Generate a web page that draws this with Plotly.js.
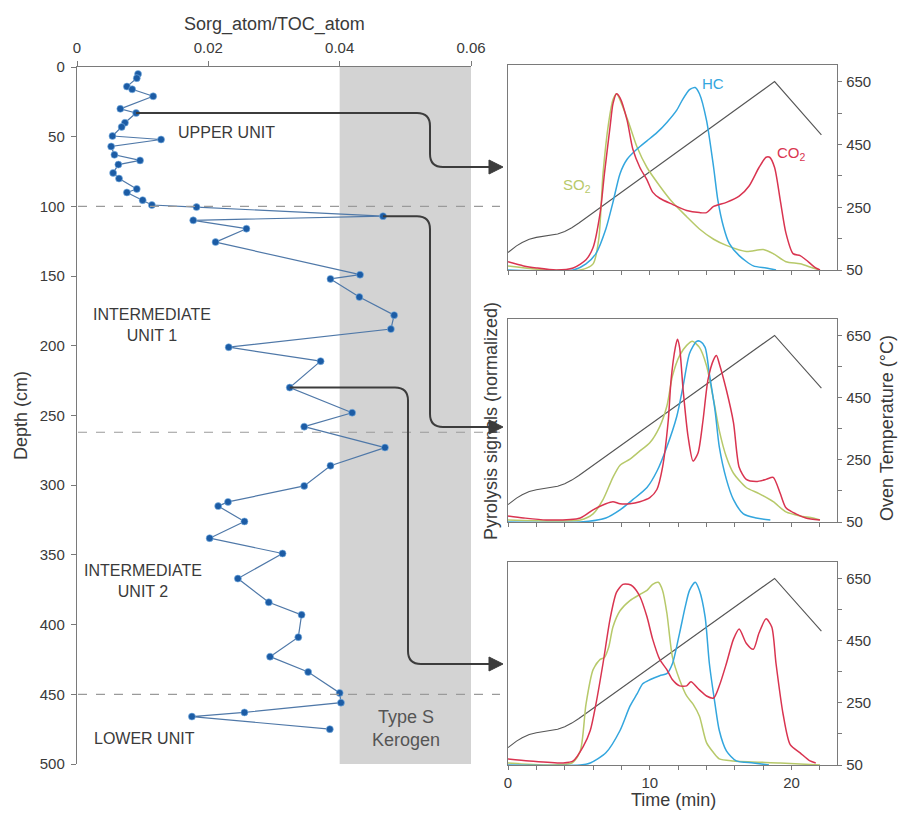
<!DOCTYPE html>
<html><head><meta charset="utf-8">
<script src="https://cdn.plot.ly/plotly-3.0.1.min.js"></script>
<style>html,body{margin:0;padding:0;background:#fff}#chart{width:901px;height:814px}</style>
</head><body><div id="chart"></div>
<script>
// ---------- Left panel data: Sorg/TOC atomic ratio vs depth ----------
const depthCm = [5, 8, 14, 16, 21, 30, 33, 40, 43, 49.5, 52, 57, 63, 67, 70, 76, 80, 87.5, 90, 95.5, 99, 100.5,
  107, 110, 116, 125.6, 149, 152, 165, 178, 188, 201, 211, 230, 248, 258, 273, 286, 300.5, 312, 315, 326, 338,
  349, 367, 384, 393, 409, 423, 434, 449, 456, 463, 466, 475];
const sorgToc = [0.0093, 0.0091, 0.0076, 0.0084, 0.0116, 0.0066, 0.0090, 0.0073, 0.0068, 0.0054, 0.0128, 0.0052,
  0.0057, 0.0096, 0.0063, 0.0055, 0.0064, 0.0091, 0.0076, 0.0100, 0.0114, 0.0182, 0.0466, 0.0177, 0.0258, 0.0211,
  0.0431, 0.0386, 0.0430, 0.0483, 0.0478, 0.0231, 0.0371, 0.0324, 0.0419, 0.0346, 0.0469, 0.0386, 0.0346, 0.0230,
  0.0215, 0.0255, 0.0202, 0.0313, 0.0245, 0.0292, 0.0342, 0.0337, 0.0294, 0.0352, 0.0400, 0.0402, 0.0255, 0.0175, 0.0385];
const unitBoundaries = [100, 262, 450];
const kerogenRange = [0.04, 0.06];
const linkedDepths = [33, 107, 230];
const unitLabels = ['UPPER UNIT', 'INTERMEDIATE<br>UNIT 1', 'INTERMEDIATE<br>UNIT 2', 'LOWER UNIT'];

// ---------- Right panels: pyrolysis signals (normalized) vs time ----------
// Oven temperature program (same for all three)
const tempTime = [0, 0.3, 0.6, 1, 1.5, 2, 2.5, 3, 3.5, 4, 4.5, 5, 18.8, 22.1];
const tempC = [106, 117, 127, 138, 148, 154, 158, 161, 165, 173, 185, 200, 651, 481];

// Panel 1 (upper unit, 33 cm)
const p1SO2t = [0, 2.7, 5.1, 6.0, 6.4, 6.7, 7.1, 7.4, 7.65, 8.4, 9.1, 9.8, 10.7, 11.6, 12.6, 13.5, 14.5, 15.4, 16.8, 18.0, 18.7, 19.6, 20.6, 21.5, 22.0];
const p1SO2s = [0.02, 0.00, 0.00, 0.03, 0.15, 0.47, 0.72, 0.83, 0.86, 0.74, 0.60, 0.50, 0.41, 0.33, 0.26, 0.20, 0.15, 0.12, 0.09, 0.10, 0.08, 0.04, 0.03, 0.01, 0.00];
const p1CO2t = [0, 1.1, 2.0, 3.4, 4.6, 5.5, 6.0, 6.5, 6.8, 7.2, 7.4, 7.65, 7.9, 8.4, 8.8, 9.3, 9.8, 10.2, 10.7, 11.6, 12.6, 13.5, 14.0, 14.5, 15.4, 16.3, 17.0, 17.7, 18.2, 18.45, 18.8, 19.2, 19.6, 20.1, 20.6, 21.0, 21.7, 22.0];
const p1CO2s = [0.04, 0.02, 0.01, 0.00, 0.01, 0.05, 0.11, 0.28, 0.47, 0.70, 0.81, 0.86, 0.84, 0.73, 0.59, 0.50, 0.44, 0.38, 0.35, 0.32, 0.29, 0.28, 0.28, 0.31, 0.33, 0.36, 0.41, 0.50, 0.55, 0.55, 0.50, 0.34, 0.18, 0.08, 0.07, 0.05, 0.01, 0.00];
const p1HCt = [0, 4.6, 5.5, 6.2, 6.9, 7.4, 7.9, 8.4, 9.1, 9.8, 10.5, 11.2, 11.9, 12.3, 12.8, 13.2, 13.5, 14.0, 14.5, 14.8, 15.2, 15.6, 16.3, 17.3, 18.2, 18.9];
const p1HCs = [0.00, 0.00, 0.03, 0.08, 0.20, 0.33, 0.47, 0.54, 0.59, 0.63, 0.67, 0.72, 0.78, 0.83, 0.88, 0.89, 0.86, 0.73, 0.50, 0.34, 0.21, 0.13, 0.07, 0.02, 0.01, 0.00];

// Panel 2 (intermediate unit 1, 107 cm)
const p2SO2t = [0, 5.1, 6.0, 6.7, 7.4, 7.9, 8.6, 9.3, 10.0, 10.7, 11.2, 11.6, 12.1, 12.6, 13.0, 13.5, 14.0, 14.5, 14.9, 15.4, 15.9, 16.8, 17.7, 18.7, 19.6, 20.6, 21.5, 22.0];
const p2SO2s = [0.01, 0.01, 0.04, 0.11, 0.22, 0.28, 0.31, 0.35, 0.39, 0.47, 0.57, 0.72, 0.82, 0.87, 0.89, 0.86, 0.77, 0.60, 0.45, 0.32, 0.24, 0.17, 0.14, 0.10, 0.05, 0.03, 0.02, 0.01];
const p2CO2t = [0, 1.1, 2.7, 5.1, 6.0, 6.9, 7.4, 7.9, 8.6, 9.3, 10.0, 10.5, 10.9, 11.3, 11.5, 11.8, 11.95, 12.1, 12.35, 12.7, 13.05, 13.4, 13.75, 14.1, 14.5, 14.7, 14.9, 15.4, 15.9, 16.3, 16.8, 17.5, 18.2, 18.7, 19.2, 19.6, 20.3, 21.0, 22.0];
const p2CO2s = [0.03, 0.02, 0.01, 0.02, 0.06, 0.09, 0.10, 0.09, 0.09, 0.10, 0.12, 0.16, 0.27, 0.50, 0.70, 0.86, 0.90, 0.86, 0.65, 0.42, 0.30, 0.34, 0.50, 0.70, 0.80, 0.82, 0.78, 0.65, 0.49, 0.27, 0.21, 0.20, 0.21, 0.22, 0.14, 0.07, 0.04, 0.02, 0.01];
const p2HCt = [0, 5.1, 6.9, 7.9, 8.8, 9.8, 10.5, 11.2, 11.9, 12.35, 12.8, 13.3, 13.55, 13.9, 14.2, 14.6, 14.9, 15.4, 15.9, 16.6, 17.5, 18.5];
const p2HCs = [0.00, 0.00, 0.02, 0.06, 0.11, 0.17, 0.25, 0.37, 0.52, 0.67, 0.83, 0.89, 0.89, 0.86, 0.73, 0.55, 0.37, 0.21, 0.11, 0.04, 0.02, 0.01];

// Panel 3 (intermediate unit 1, 230 cm)
const p3SO2t = [0, 4.5, 5.1, 5.5, 6.0, 6.5, 6.8, 7.1, 7.4, 7.9, 8.6, 9.3, 9.8, 10.2, 10.6, 10.9, 11.2, 11.6, 12.1, 12.6, 13.05, 13.5, 14.0, 14.5, 14.9, 15.9, 19.2, 22.0];
const p3SO2s = [0.01, 0.01, 0.07, 0.30, 0.47, 0.52, 0.53, 0.58, 0.68, 0.76, 0.81, 0.84, 0.86, 0.89, 0.90, 0.86, 0.75, 0.53, 0.42, 0.34, 0.30, 0.24, 0.11, 0.06, 0.03, 0.02, 0.01, 0.00];
const p3CO2t = [0, 1.5, 3.9, 4.6, 5.3, 5.8, 6.2, 6.7, 7.2, 7.65, 8.1, 8.5, 8.8, 9.3, 9.8, 10.2, 10.7, 11.2, 11.6, 12.1, 12.6, 12.9, 13.5, 14.0, 14.5, 14.9, 15.4, 15.9, 16.3, 16.8, 17.3, 17.7, 18.2, 18.6, 18.9, 19.4, 19.9, 20.6, 21.3, 21.7];
const p3CO2s = [0.03, 0.02, 0.01, 0.02, 0.09, 0.17, 0.30, 0.50, 0.72, 0.85, 0.89, 0.89, 0.88, 0.83, 0.73, 0.62, 0.52, 0.47, 0.42, 0.39, 0.39, 0.41, 0.37, 0.34, 0.33, 0.39, 0.50, 0.62, 0.67, 0.60, 0.57, 0.65, 0.72, 0.68, 0.50, 0.25, 0.10, 0.06, 0.02, 0.01];
const p3HCt = [0, 5.1, 5.8, 6.9, 7.9, 8.6, 9.1, 9.5, 10.0, 10.7, 11.2, 11.6, 12.1, 12.5, 12.8, 13.2, 13.5, 13.9, 14.2, 14.6, 14.9, 15.4, 16.1, 17.3, 18.4];
const p3HCs = [0.00, 0.00, 0.01, 0.06, 0.17, 0.29, 0.35, 0.40, 0.42, 0.44, 0.45, 0.50, 0.65, 0.78, 0.86, 0.90, 0.86, 0.73, 0.50, 0.30, 0.17, 0.07, 0.02, 0.01, 0.00];

// ---------- Layout geometry (pixels) ----------
const W = 901, H = 814;
const L = {x0: 77, x1: 471, y0: 67, y1: 764};      // left plot box
const R = {x0: 508, x1: 837};                       // right panels horizontal extent
const panelsY = [[65, 270], [319, 522], [562, 765]];
const xRange = [0, 0.06], dRange = [0, 500];

const fx = px => px / W;
const fy = py => 1 - py / H;
const P = (px, py) => fx(px).toFixed(5) + ',' + fy(py).toFixed(5);
const pxOfX = v => L.x0 + (v - xRange[0]) / (xRange[1] - xRange[0]) * (L.x1 - L.x0);
const pyOfD = d => L.y0 + (d - dRange[0]) / (dRange[1] - dRange[0]) * (L.y1 - L.y0);

const COL = {hc: '#33a6de', co2: '#d93450', so2: '#b7c96a', temp: '#555555', axis: '#7a7a7a', text: '#3a3a3a'};
const FONT = 'Liberation Sans, Arial, Helvetica, sans-serif';

const traces = [];
traces.push({
  x: sorgToc, y: depthCm, xaxis: 'x', yaxis: 'y', type: 'scatter', mode: 'lines+markers',
  line: {color: '#4f78a8', width: 1.2},
  marker: {color: '#1c5ca5', size: 7, line: {color: '#7fb6e6', width: 0.6}},
  hoverinfo: 'x+y'
});

const panels = [
  {so2: [p1SO2t, p1SO2s], co2: [p1CO2t, p1CO2s], hc: [p1HCt, p1HCs]},
  {so2: [p2SO2t, p2SO2s], co2: [p2CO2t, p2CO2s], hc: [p2HCt, p2HCs]},
  {so2: [p3SO2t, p3SO2s], co2: [p3CO2t, p3CO2s], hc: [p3HCt, p3HCs]}
];

const layout = {
  width: W, height: H, margin: {l: 0, r: 0, t: 0, b: 0},
  paper_bgcolor: '#ffffff', plot_bgcolor: 'rgba(0,0,0,0)',
  showlegend: false, font: {family: FONT, color: '#3a3a3a', size: 15},
  xaxis: {
    domain: [fx(L.x0), fx(L.x1)], range: xRange, side: 'top', anchor: 'y',
    tickmode: 'linear', tick0: 0, dtick: 0.02, tickformat: '.2~f',
    ticks: 'outside', ticklen: 5, tickcolor: COL.axis, showline: true, linecolor: COL.axis, linewidth: 1.2,
    showgrid: false, zeroline: false, tickfont: {size: 15, color: COL.text}, ticklabelstandoff: 2
  },
  yaxis: {
    domain: [fy(L.y1), fy(L.y0)], range: [500, 0], anchor: 'x',
    tickmode: 'linear', tick0: 0, dtick: 50,
    ticks: 'outside', ticklen: 5, tickcolor: COL.axis, showline: true, linecolor: COL.axis, linewidth: 1.2,
    showgrid: false, zeroline: false, tickfont: {size: 15, color: COL.text}, ticklabelstandoff: 3
  },
  shapes: [], annotations: []
};

panels.forEach((pn, i) => {
  const k = i + 2;            // x2..x4, y2..y4 temperature (base)
  const ks = i + 5;           // y5..y7 signals (overlay)
  const xa = 'x' + k, ya = 'y' + k, ys = 'y' + ks;
  const [py0, py1] = panelsY[i];
  layout['xaxis' + k] = {
    domain: [fx(R.x0), fx(R.x1)], range: [0, 23.2], anchor: ya,
    tickmode: 'linear', tick0: 0, dtick: 10, showticklabels: i === 2,
    ticks: 'outside', ticklen: 4, tickcolor: COL.axis,
    minor: {tickmode: 'linear', tick0: 0, dtick: 2, ticks: 'outside', ticklen: 4, tickcolor: COL.axis, showgrid: false},
    showline: true, mirror: true,
    linecolor: COL.axis, linewidth: 1.2, showgrid: false, zeroline: false,
    tickfont: {size: 15, color: COL.text}, ticklabelstandoff: 0
  };
  layout['yaxis' + k] = {
    domain: [fy(py1), fy(py0)], range: [50, 704], anchor: xa, side: 'right',
    tickmode: 'linear', tick0: 50, dtick: 200, ticks: 'outside', ticklen: 4, tickcolor: COL.axis,
    minor: {tickmode: 'linear', tick0: 50, dtick: 100, ticks: 'outside', ticklen: 4, tickcolor: COL.axis, showgrid: false},
    showline: true, mirror: true, linecolor: COL.axis, linewidth: 1.2, showgrid: false, zeroline: false,
    tickfont: {size: 15, color: COL.text}, ticklabelstandoff: 1
  };
  layout['yaxis' + ks] = {
    domain: [fy(py1), fy(py0)], range: [0, 1], anchor: xa, overlaying: ya, visible: false, fixedrange: true
  };
  traces.push({x: tempTime, y: tempC, xaxis: xa, yaxis: ya, type: 'scatter', mode: 'lines',
    line: {color: COL.temp, width: 1.1}, hoverinfo: 'skip'});
  traces.push({x: pn.so2[0], y: pn.so2[1], xaxis: xa, yaxis: ys, type: 'scatter', mode: 'lines',
    line: {color: COL.so2, width: 1.5, shape: 'spline', smoothing: 0.7}, name: 'SO2'});
  traces.push({x: pn.hc[0], y: pn.hc[1], xaxis: xa, yaxis: ys, type: 'scatter', mode: 'lines',
    line: {color: COL.hc, width: 1.5, shape: 'spline', smoothing: 0.7}, name: 'HC'});
  traces.push({x: pn.co2[0], y: pn.co2[1], xaxis: xa, yaxis: ys, type: 'scatter', mode: 'lines',
    line: {color: COL.co2, width: 1.5, shape: 'spline', smoothing: 0.7}, name: 'CO2'});
});

// Type S kerogen field
layout.shapes.push({type: 'rect', xref: 'x', yref: 'y', x0: kerogenRange[0], x1: kerogenRange[1],
  y0: dRange[0], y1: dRange[1], fillcolor: '#d3d3d3', line: {width: 0}, layer: 'below'});
// Unit boundaries
unitBoundaries.forEach(d => {
  layout.shapes.push({type: 'line', xref: 'paper', yref: 'paper', x0: fx(L.x0 + 1), x1: fx(500),
    y0: fy(pyOfD(d)), y1: fy(pyOfD(d)), line: {color: '#9a9a9a', width: 1.2, dash: 'dash'}, layer: 'above'});
});
// Elbow arrows linking samples to pyrograms
const elbowX = [430, 430, 408];
const targetY = [167, 427, 664];
const arrowEnd = 491, r = 13;
linkedDepths.forEach((d, i) => {
  const idx = depthCm.indexOf(d);
  const sx = pxOfX(sorgToc[idx]), sy = pyOfD(depthCm[idx]);
  const cx = elbowX[i], ty = targetY[i];
  const path = 'M' + P(sx, sy) + ' L' + P(cx - r, sy) + ' Q' + P(cx, sy) + ' ' + P(cx, sy + r) +
    ' L' + P(cx, ty - r) + ' Q' + P(cx, ty) + ' ' + P(cx + r, ty) + ' L' + P(arrowEnd, ty);
  layout.shapes.push({type: 'path', xref: 'paper', yref: 'paper', path: path,
    line: {color: '#3c3c3c', width: 2}, layer: 'above'});
  layout.shapes.push({type: 'path', xref: 'paper', yref: 'paper',
    path: 'M' + P(arrowEnd - 2, ty - 7) + ' L' + P(arrowEnd + 12, ty) + ' L' + P(arrowEnd - 2, ty + 7) + ' Z',
    fillcolor: '#3c3c3c', line: {color: '#3c3c3c', width: 1}, layer: 'above'});
});

function ann(text, px, py, size, color, angle) {
  layout.annotations.push({text: text, xref: 'paper', yref: 'paper', x: fx(px), y: fy(py),
    xanchor: 'center', yanchor: 'middle', showarrow: false, textangle: angle || 0,
    font: {family: FONT, size: size, color: color || COL.text}});
}
ann('Sorg_atom/TOC_atom', 274, 24, 18);
ann('Depth (cm)', 21, 416, 18, null, -90);
ann(unitLabels[0], 226, 132, 16);
ann(unitLabels[1], 152, 325, 16);
ann(unitLabels[2], 143, 581, 16);
ann(unitLabels[3], 144, 738, 16);
ann('Type S<br>Kerogen', 406, 728, 18, '#555');
ann('HC', 713, 83, 15, COL.hc);
ann('CO<sub>2</sub>', 791, 153, 15, COL.co2);
ann('SO<sub>2</sub>', 577, 186, 15, COL.so2);
ann('Pyrolysis signals (normalized)', 491, 421, 18, null, -90);
ann('Oven Temperature (°C)', 887, 428, 18, null, -90);
ann('Time (min)', 673, 800, 18);

Plotly.newPlot('chart', traces, layout, {staticPlot: true, displayModeBar: false});
</script></body></html>
